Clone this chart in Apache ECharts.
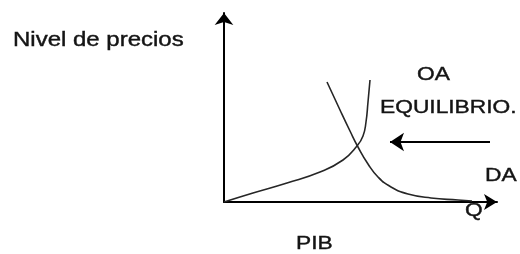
<!DOCTYPE html>
<html>
<head>
<meta charset="utf-8">
<script src="https://cdn.jsdelivr.net/npm/echarts@6/dist/echarts.min.js"></script>
<style>
  html, body { margin: 0; padding: 0; background: #fff; }
  #chart { width: 520px; height: 254px; }
</style>
</head>
<body>
<div id="chart"></div>
<script>
// puntos (x = cantidad, y = nivel de precios)
const oaPoints = [[0, 0], [29, 9], [63, 19], [96, 30], [119, 42], [133, 56], [139, 66], [142, 80], [144, 100], [146, 122]]
const daPoints = [[103, 120], [116, 92], [126, 71], [134, 55], [144, 38], [154, 25], [167, 15], [184, 8], [207, 4], [234, 2], [248, 1]]
const arrowPoints = [[266, 60], [166, 60]]
const xRange = [0, 273]
const yRange = [0, 189]

const chart = echarts.init(document.getElementById('chart'))
const ink = '#141414'
const stretch = 1.23

function label (text, x, y, size) {
  return {
    type: 'text',
    x: x,
    y: y,
    scaleX: stretch,
    style: {
      text: text,
      fill: ink,
      stroke: ink,
      lineWidth: 0.4,
      font: size + 'px "Liberation Sans", Arial, sans-serif',
      align: 'left',
      verticalAlign: 'middle'
    }
  }
}

const option = {
  animation: false,
  grid: { left: 224, right: 23, top: 13, bottom: 52 },
  xAxis: {
    type: 'value',
    min: xRange[0],
    max: xRange[1],
    axisLine: { lineStyle: { color: '#000', width: 2 }, symbol: ['none', 'arrow'], symbolSize: [12, 13] },
    axisTick: { show: false },
    axisLabel: { show: false },
    splitLine: { show: false }
  },
  yAxis: {
    type: 'value',
    min: yRange[0],
    max: yRange[1],
    axisLine: { lineStyle: { color: '#000', width: 2 }, symbol: ['none', 'arrow'], symbolSize: [14, 12] },
    axisTick: { show: false },
    axisLabel: { show: false },
    splitLine: { show: false }
  },
  series: [
    {
      name: 'OA',
      type: 'line',
      data: oaPoints,
      smooth: 0.5,
      showSymbol: false,
      lineStyle: { color: '#262626', width: 1.6 }
    },
    {
      name: 'DA',
      type: 'line',
      data: daPoints,
      smooth: 0.5,
      showSymbol: false,
      lineStyle: { color: '#262626', width: 1.6 }
    },
    {
      type: 'lines',
      coordinateSystem: 'cartesian2d',
      symbol: ['none', 'arrow'],
      symbolSize: 14,
      lineStyle: { color: '#000', width: 2, opacity: 1 },
      data: [{ coords: arrowPoints }]
    }
  ],
  graphic: [
    label('Nivel de precios', 13, 41, 19.5),
    label('OA', 417, 75, 18.5),
    label('EQUILIBRIO.', 380, 108, 18.5),
    label('DA', 485, 176, 18.5),
    label('Q', 465, 211, 18.5),
    label('PIB', 296, 244, 18.5)
  ]
}
chart.setOption(option)
</script>
</body>
</html>
